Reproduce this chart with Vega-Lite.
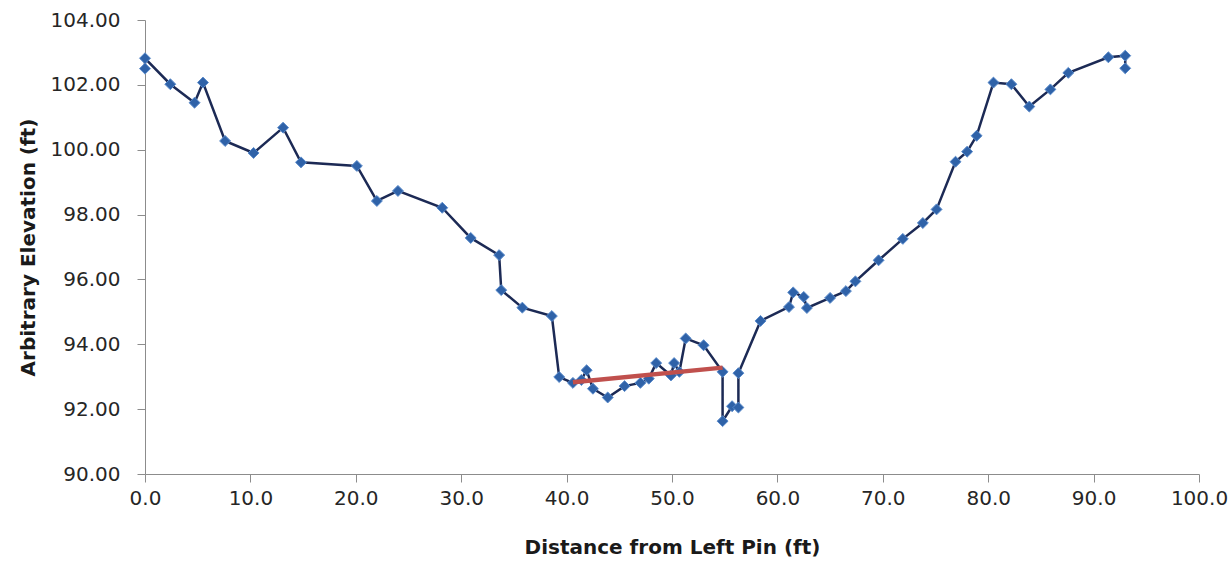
{
  "$schema": "https://vega.github.io/schema/vega-lite/v6.json",
  "width": 1054,
  "height": 454,
  "autosize": {"type": "none"},
  "padding": {"left": 145, "top": 20, "right": 29, "bottom": 91},
  "background": "white",
  "config": {
    "view": {"stroke": null},
    "font": "DejaVu Sans",
    "axis": {
      "grid": false,
      "domainColor": "#8c8c8c",
      "tickColor": "#8c8c8c",
      "tickSize": 8,
      "labelFlush": false,
      "labelFont": "DejaVu Sans",
      "labelFontSize": 20,
      "labelColor": "#262626",
      "titleFont": "DejaVu Sans",
      "titleFontSize": 20,
      "titleFontWeight": "bold",
      "titleColor": "#1a1a1a"
    }
  },
  "datasets": {
    "profile": [
      {"i": 1, "dist": 0.0, "elev": 102.50},
      {"i": 2, "dist": 0.0, "elev": 102.82},
      {"i": 3, "dist": 2.4, "elev": 102.02},
      {"i": 4, "dist": 4.7, "elev": 101.45},
      {"i": 5, "dist": 5.5, "elev": 102.07},
      {"i": 6, "dist": 7.6, "elev": 100.27},
      {"i": 7, "dist": 10.3, "elev": 99.90},
      {"i": 8, "dist": 13.1, "elev": 100.68},
      {"i": 9, "dist": 14.8, "elev": 99.61},
      {"i": 10, "dist": 20.1, "elev": 99.50},
      {"i": 11, "dist": 22.0, "elev": 98.42},
      {"i": 12, "dist": 24.0, "elev": 98.73},
      {"i": 13, "dist": 28.2, "elev": 98.21},
      {"i": 14, "dist": 30.9, "elev": 97.28},
      {"i": 15, "dist": 33.6, "elev": 96.75},
      {"i": 16, "dist": 33.8, "elev": 95.67},
      {"i": 17, "dist": 35.8, "elev": 95.13},
      {"i": 18, "dist": 38.6, "elev": 94.87},
      {"i": 19, "dist": 39.3, "elev": 92.99},
      {"i": 20, "dist": 40.6, "elev": 92.81},
      {"i": 21, "dist": 41.4, "elev": 92.90},
      {"i": 22, "dist": 41.9, "elev": 93.20},
      {"i": 23, "dist": 42.5, "elev": 92.63},
      {"i": 24, "dist": 43.9, "elev": 92.36},
      {"i": 25, "dist": 45.5, "elev": 92.71},
      {"i": 26, "dist": 47.0, "elev": 92.81},
      {"i": 27, "dist": 47.8, "elev": 92.94},
      {"i": 28, "dist": 48.5, "elev": 93.42},
      {"i": 29, "dist": 49.9, "elev": 93.04},
      {"i": 30, "dist": 50.2, "elev": 93.42},
      {"i": 31, "dist": 50.7, "elev": 93.15},
      {"i": 32, "dist": 51.3, "elev": 94.18},
      {"i": 33, "dist": 53.0, "elev": 93.97},
      {"i": 34, "dist": 54.8, "elev": 93.15},
      {"i": 35, "dist": 54.8, "elev": 91.63},
      {"i": 36, "dist": 55.7, "elev": 92.09},
      {"i": 37, "dist": 56.3, "elev": 92.05},
      {"i": 38, "dist": 56.3, "elev": 93.11},
      {"i": 39, "dist": 58.4, "elev": 94.72},
      {"i": 40, "dist": 61.1, "elev": 95.15},
      {"i": 41, "dist": 61.5, "elev": 95.60},
      {"i": 42, "dist": 62.5, "elev": 95.46},
      {"i": 43, "dist": 62.8, "elev": 95.12},
      {"i": 44, "dist": 65.0, "elev": 95.43},
      {"i": 45, "dist": 66.5, "elev": 95.64},
      {"i": 46, "dist": 67.4, "elev": 95.94},
      {"i": 47, "dist": 69.6, "elev": 96.59},
      {"i": 48, "dist": 71.9, "elev": 97.25},
      {"i": 49, "dist": 73.8, "elev": 97.74},
      {"i": 50, "dist": 75.1, "elev": 98.16},
      {"i": 51, "dist": 76.9, "elev": 99.63},
      {"i": 52, "dist": 78.0, "elev": 99.94},
      {"i": 53, "dist": 78.9, "elev": 100.43},
      {"i": 54, "dist": 80.5, "elev": 102.07},
      {"i": 55, "dist": 82.2, "elev": 102.02},
      {"i": 56, "dist": 83.9, "elev": 101.33},
      {"i": 57, "dist": 85.9, "elev": 101.86},
      {"i": 58, "dist": 87.6, "elev": 102.37},
      {"i": 59, "dist": 91.4, "elev": 102.85},
      {"i": 60, "dist": 93.0, "elev": 102.90},
      {"i": 61, "dist": 93.0, "elev": 102.51}
    ],
    "water": [
      {"i": 1, "dist": 40.6, "elev": 92.83},
      {"i": 2, "dist": 54.8, "elev": 93.28}
    ]
  },
  "encoding": {
    "x": {
      "field": "dist",
      "type": "quantitative",
      "scale": {"domain": [0, 100], "nice": false, "zero": false},
      "axis": {
        "title": "Distance from Left Pin (ft)",
        "values": [0, 10, 20, 30, 40, 50, 60, 70, 80, 90, 100],
        "format": ".1f",
        "labelPadding": 6,
        "titlePadding": 29
      }
    },
    "y": {
      "field": "elev",
      "type": "quantitative",
      "scale": {"domain": [90, 104], "nice": false, "zero": false},
      "axis": {
        "title": "Arbitrary Elevation (ft)",
        "values": [90, 92, 94, 96, 98, 100, 102, 104],
        "format": ".2f",
        "labelPadding": 17,
        "titlePadding": 12
      }
    },
    "order": {"field": "i", "type": "quantitative"}
  },
  "layer": [
    {
      "data": {"name": "profile"},
      "mark": {"type": "line", "color": "#1c2a55", "strokeWidth": 2.5}
    },
    {
      "data": {"name": "profile"},
      "mark": {"type": "point", "shape": "diamond", "filled": true, "size": 120, "color": "#2f62a8", "opacity": 1, "stroke": "#5a8bcb", "strokeWidth": 1}
    },
    {
      "data": {"name": "water"},
      "mark": {"type": "line", "color": "#c0504d", "strokeWidth": 4.5}
    }
  ]
}
